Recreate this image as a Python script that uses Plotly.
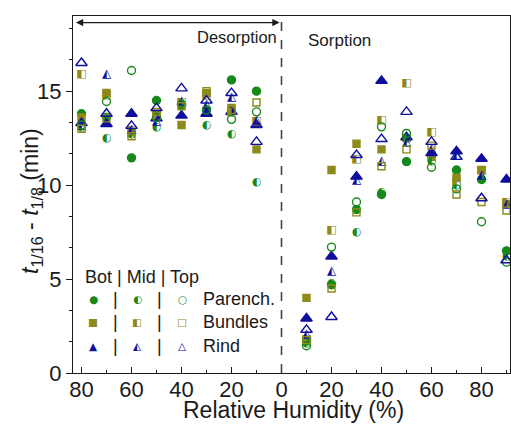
import plotly.graph_objects as go

# ---------------- data ----------------
rh_des = [80, 70, 60, 50, 40, 30, 20, 10]
rh_sor = [10, 20, 30, 40, 50, 60, 70, 80, 90]

# desorption values (RH 80 -> 10)
des_bot_par = [13.8, 13.6, 11.45, 14.5, 14.3, 14.0, 15.6, 15.0]
des_mid_par = [13.1, 12.5, 12.7, 13.1, 14.2, 13.2, 12.7, 10.15]
des_top_par = [13.2, 14.45, 16.1, 13.6, 14.3, 14.0, 13.5, 13.9]
des_bot_bun = [13.6, 14.9, 12.8, 13.8, 13.2, 14.9, 14.1, 11.9]
des_mid_bun = [15.9, 14.8, 12.9, 13.7, 14.4, 14.8, 13.9, 13.4]
des_top_bun = [13.0, 13.55, 12.6, 13.9, 14.2, 15.0, 14.0, 14.4]
des_bot_rin = [13.3, 13.25, 13.8, 13.55, 13.7, 13.8, 13.9, 13.2]
des_mid_rin = [13.2, 15.9, 13.0, 13.4, 14.5, 14.3, 14.7, 13.45]
des_top_rin = [16.5, 13.8, 13.15, 14.1, 15.15, 14.5, 14.9, 12.3]

# sorption values (RH 10 -> 90)
sor_bot_par = [1.7, 4.7, 8.7, 9.5, 11.25, 11.6, 10.8, 10.3, 6.5]
sor_mid_par = [1.6, 4.8, 7.5, 9.6, 12.5, 11.25, 10.0, 10.3, 6.2]
sor_top_par = [1.45, 6.7, 9.1, 13.1, 12.75, 10.95, 9.8, 8.05, 5.9]
sor_bot_bun = [4.0, 10.8, 12.2, 11.9, 12.5, 11.5, 10.4, 10.8, 9.0]
sor_mid_bun = [1.8, 7.6, 11.4, 13.45, 15.4, 12.8, 10.2, 10.8, 9.1]
sor_top_bun = [1.75, 4.5, 8.55, 11.0, 11.9, 12.1, 9.5, 9.1, 8.65]
sor_bot_rin = [2.9, 6.2, 10.45, 15.55, 12.55, 11.7, 11.8, 11.4, 10.3]
sor_mid_rin = [2.1, 5.45, 10.25, 11.3, 12.3, 12.0, 11.6, 10.55, 9.0]
sor_top_rin = [2.3, 2.98, 11.6, 12.45, 13.9, 12.3, 11.5, 9.3, 6.0]

x_tick_vals = [-80, -60, -40, -20, 0, 20, 40, 60, 80]
x_tick_text = ["80", "60", "40", "20", "0", "20", "40", "60", "80"]
y_tick_vals = [0, 5, 10, 15]

GREEN = "#17891a"
OLIVE = "#8c8a1a"
NAVY = "#0f0f9e"
FONT = "Liberation Sans, Arial, sans-serif"
TXT = "#1a1a1a"

# desorption plotted on the negative side (axis labels show |RH|)
x_all = [-v for v in rh_des] + rh_sor

series = [
    ("bot", "circle", GREEN, des_bot_par + sor_bot_par, 8),
    ("bot", "square", OLIVE, des_bot_bun + sor_bot_bun, 7),
    ("bot", "triangle-up", NAVY, des_bot_rin + sor_bot_rin, 10),
    ("mid", "◐", GREEN, des_mid_par + sor_mid_par, 11),
    ("mid", "◧", OLIVE, des_mid_bun + sor_mid_bun, 11),
    ("mid", "◭", NAVY, des_mid_rin + sor_mid_rin, 12),
    ("top", "circle-open", GREEN, des_top_par + sor_top_par, 8),
    ("top", "square-open", OLIVE, des_top_bun + sor_top_bun, 7),
    ("top", "triangle-up-open", NAVY, des_top_rin + sor_top_rin, 10),
]

fig = go.Figure()
for pos, sym, col, yv, sz in series:
    if pos == "mid":
        fig.add_trace(go.Scatter(
            x=x_all, y=yv, mode="text", text=[sym] * len(yv),
            textposition="middle center",
            textfont=dict(family="DejaVu Sans", size=sz, color=col),
            showlegend=False, hoverinfo="skip", cliponaxis=False))
    else:
        fig.add_trace(go.Scatter(
            x=x_all, y=yv, mode="markers",
            marker=dict(symbol=sym, size=sz, color=col,
                        line=dict(width=1.4, color=col)),
            showlegend=False, cliponaxis=False))

# vertical dashed separator
fig.add_shape(type="line", xref="x", yref="paper", x0=0, x1=0, y0=0, y1=1,
              line=dict(color="#444", width=1.6, dash="dash"))

# layout geometry (pixels)
L, W, T, H = 73, 437, 16, 357
def px(xp):
    return (xp - L) / W
def py(yp):
    return (T + H - yp) / H

annotations = []
# double-headed arrow over desorption half
annotations.append(dict(x=-0.8, y=18.65, ax=-82.8, ay=18.65, xref="x", yref="y",
                        axref="x", ayref="y", text="", showarrow=True,
                        arrowhead=2, startarrowhead=2, arrowside="end+start",
                        arrowsize=1.2, arrowwidth=1.2, arrowcolor=TXT))
annotations.append(dict(x=-18, y=17.9, xref="x", yref="y", text="Desorption",
                        showarrow=False, font=dict(family=FONT, size=16.5, color=TXT)))
annotations.append(dict(x=23, y=17.7, xref="x", yref="y", text="Sorption",
                        showarrow=False, font=dict(family=FONT, size=17, color=TXT)))

# axis titles
annotations.append(dict(x=px(293), y=py(410), xref="paper", yref="paper",
                        xanchor="center", yanchor="middle", showarrow=False,
                        text="Relative Humidity (%)",
                        font=dict(family=FONT, size=23, color=TXT)))
annotations.append(dict(x=px(32), y=py(201), xref="paper", yref="paper",
                        xanchor="center", yanchor="middle", showarrow=False,
                        textangle=-90,
                        text="<i>t</i><sub>1/16</sub> - <i>t</i><sub>1/8</sub> (min)",
                        font=dict(family=FONT, size=23, color=TXT)))

# custom legend
lf = dict(family=FONT, size=18, color=TXT)
annotations.append(dict(x=px(83), y=py(277), xref="paper", yref="paper",
                        text="Bot | Mid | Top", showarrow=False, xanchor="left",
                        yanchor="middle", font=lf))
rows = [("Parench.", GREEN, "●", "◐", "○", 299),
        ("Bundles", OLIVE, "■", "◧", "□", 322),
        ("Rind", NAVY, "▲", "◭", "△", 346)]
for label, col, b, m, t, yp in rows:
    for xp, g in [(93, b), (137, m), (182, t)]:
        annotations.append(dict(x=px(xp), y=py(yp), xref="paper", yref="paper",
                                text=g, showarrow=False, xanchor="center",
                                yanchor="middle",
                                font=dict(family="DejaVu Sans", size=10.5, color=col)))
    for xp in (115, 159):
        annotations.append(dict(x=px(xp), y=py(yp), xref="paper", yref="paper",
                                text="|", showarrow=False, xanchor="center",
                                yanchor="middle", font=lf))
    annotations.append(dict(x=px(201), y=py(yp), xref="paper", yref="paper",
                            text=label, showarrow=False, xanchor="left",
                            yanchor="middle", font=lf))

fig.update_layout(
    width=511, height=432,
    margin=dict(l=L, r=511 - L - W, t=T, b=432 - T - H),
    paper_bgcolor="white", plot_bgcolor="white",
    font=dict(family=FONT, color=TXT),
    annotations=annotations,
    showlegend=False,
)
fig.update_xaxes(
    automargin=False,
    range=[-83.4, 91.4], tickmode="array", tickvals=x_tick_vals, ticktext=x_tick_text,
    ticks="inside", ticklen=6, tickwidth=1.2, tickcolor=TXT,
    minor=dict(tickmode="linear", tick0=0, dtick=10, ticks="inside", ticklen=3,
               tickcolor=TXT),
    showline=True, linecolor=TXT, linewidth=1.3, mirror=True, showgrid=False,
    zeroline=False, tickfont=dict(size=22, family=FONT, color=TXT),
    ticklabelstandoff=-4,
)
fig.update_yaxes(
    automargin=False,
    range=[0, 19], tickmode="array", tickvals=y_tick_vals,
    ticks="outside", ticklen=6, tickwidth=1.2, tickcolor=TXT,
    minor=dict(tickmode="linear", tick0=0, dtick=5 / 3, ticks="outside", ticklen=3,
               tickcolor=TXT),
    showline=True, linecolor=TXT, linewidth=1.3, mirror=True, showgrid=False,
    zeroline=False, tickfont=dict(size=22, family=FONT, color=TXT),
)

fig.write_html("out.html", config={"displayModeBar": False},
               post_script="document.body.style.margin='0';document.body.style.overflow='hidden';")
